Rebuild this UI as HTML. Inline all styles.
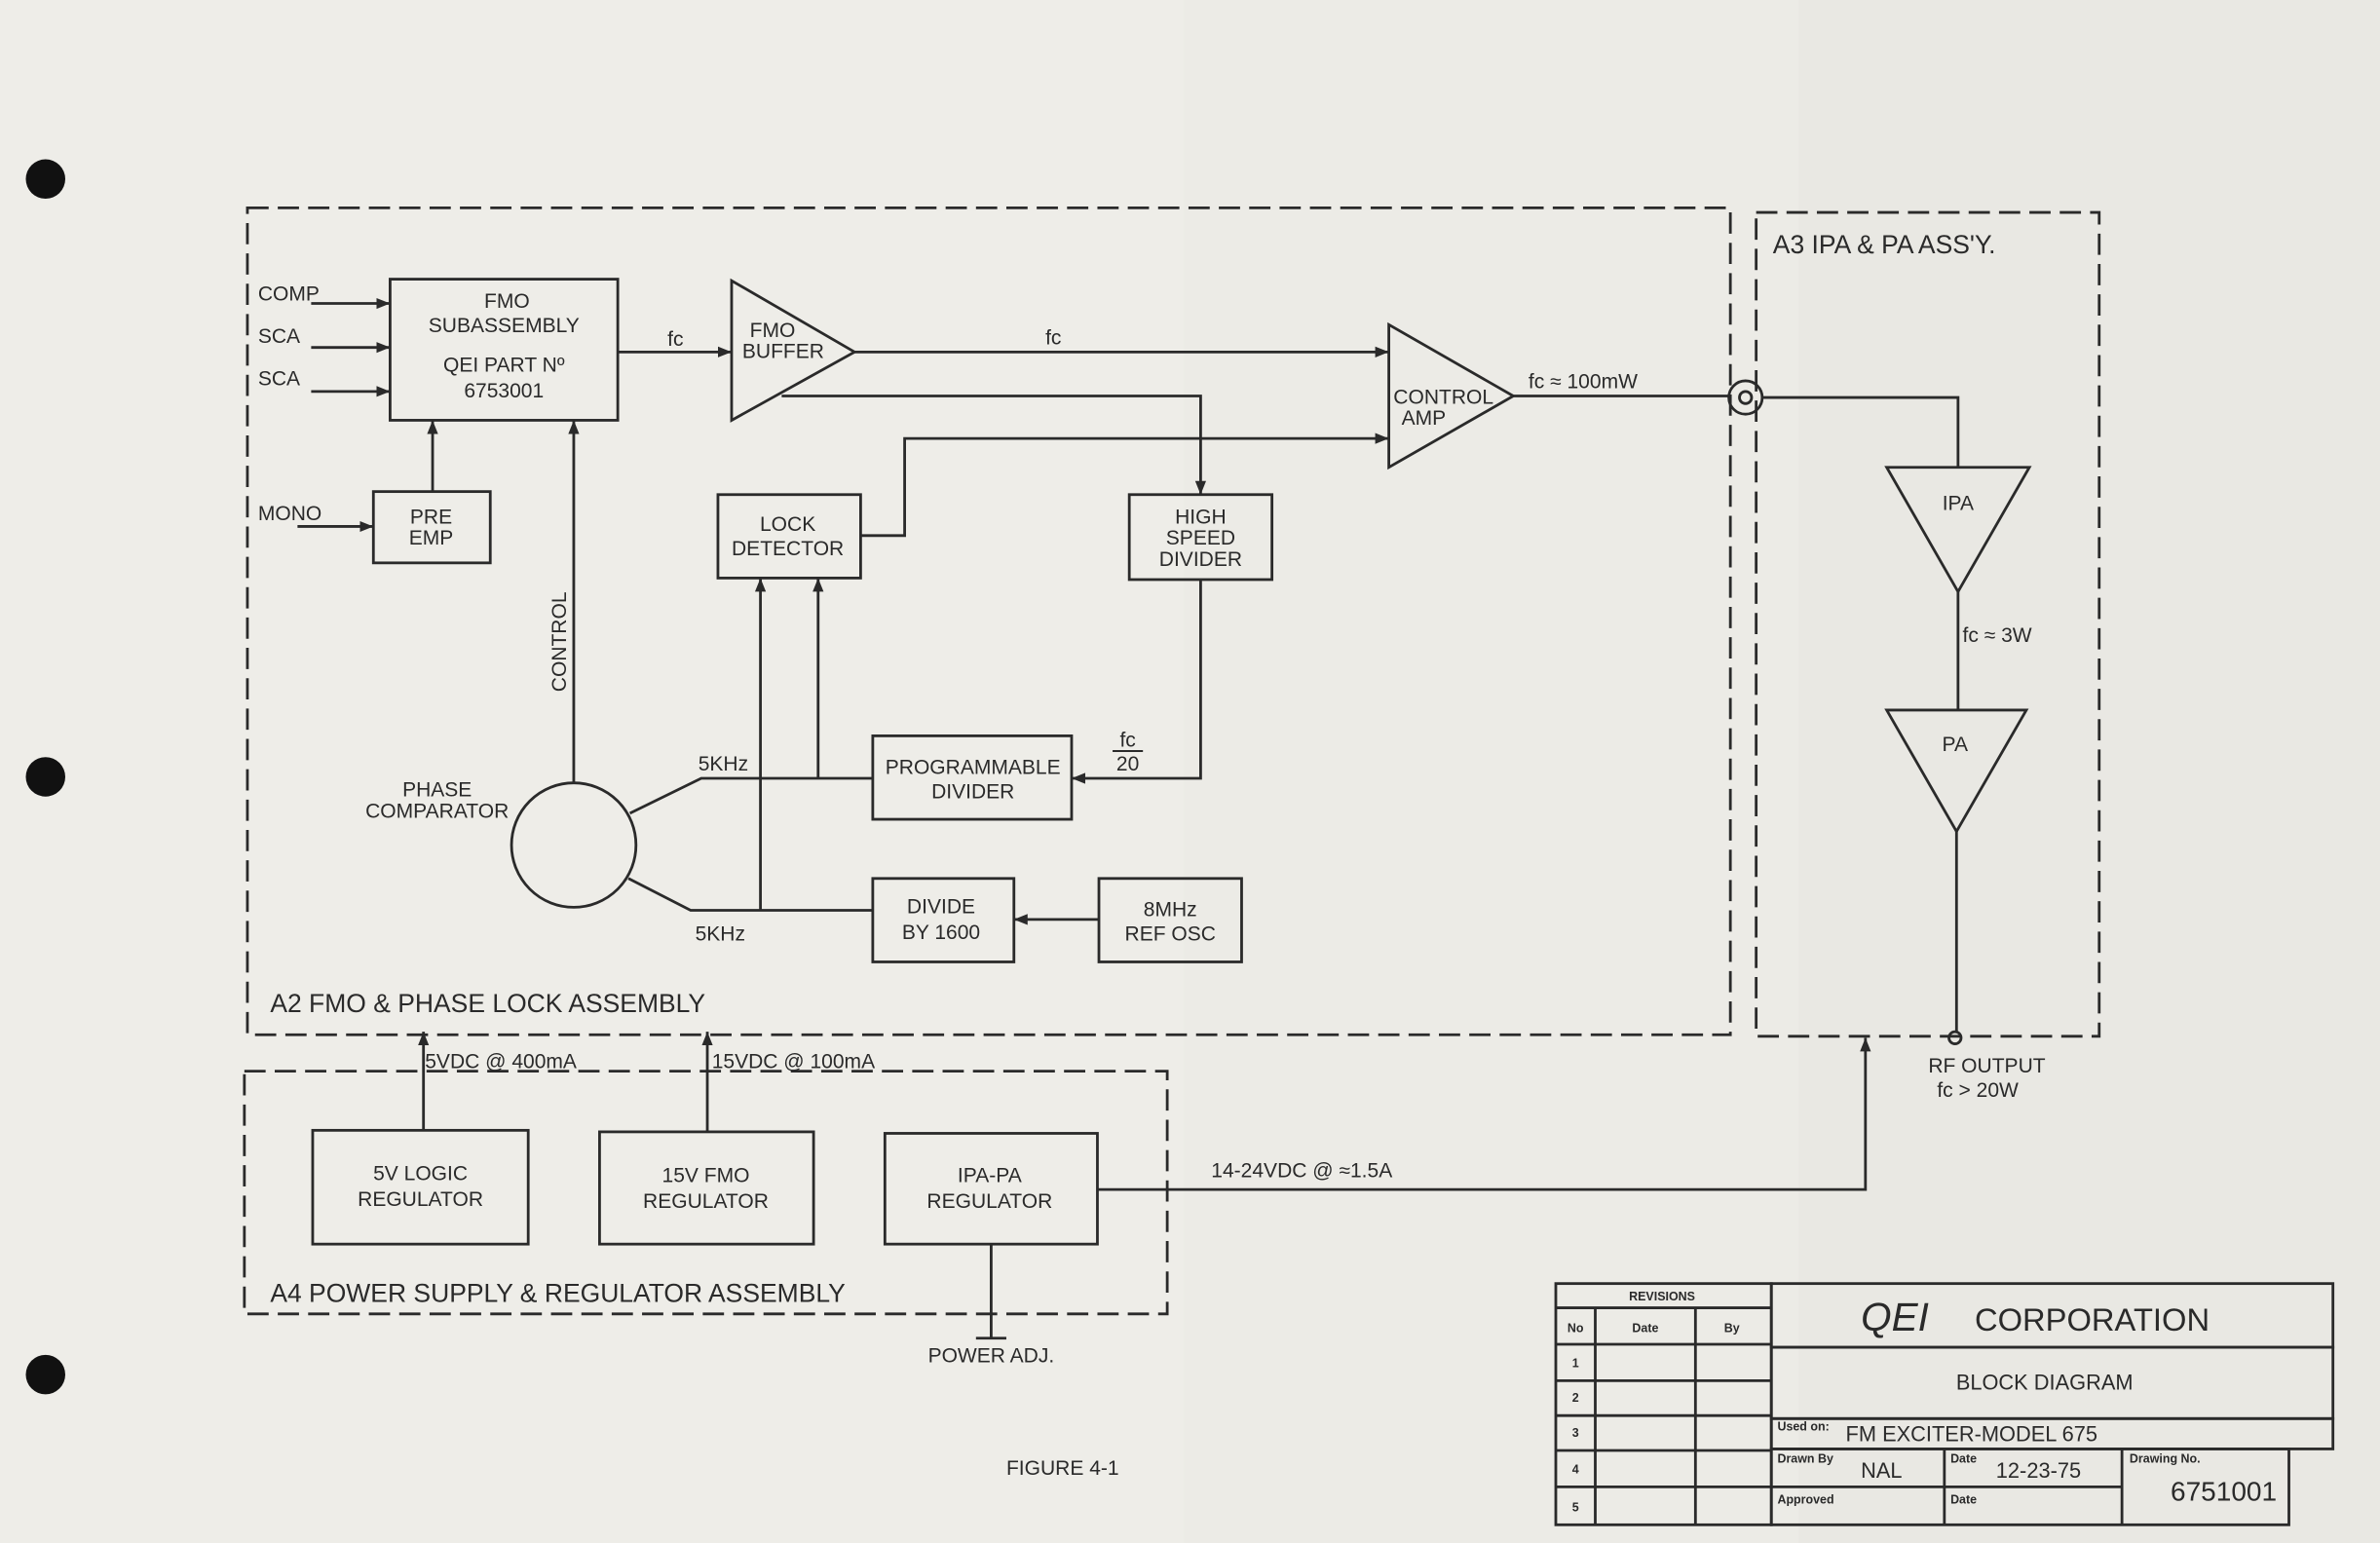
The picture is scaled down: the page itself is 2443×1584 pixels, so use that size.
<!DOCTYPE html>
<html><head><meta charset="utf-8"><style>
html,body{margin:0;padding:0;background:#ecebe6;}
svg{display:block;}
text{font-family:"Liberation Sans",sans-serif;fill:#2a2a2a;}
</style></head><body>
<svg width="2443" height="1584" viewBox="0 0 1568 1017" preserveAspectRatio="none" xmlns="http://www.w3.org/2000/svg">
<defs>
<marker id="ar" viewBox="0 0 10 10" refX="10" refY="5" markerWidth="9" markerHeight="9" markerUnits="userSpaceOnUse" orient="auto"><path d="M0,1 L10,5 L0,9 z" fill="#2a2a2a"/></marker>
</defs>
<rect width="1568" height="1017" fill="#ecebe6"/>
<rect x="0" y="0" width="780" height="1017" fill="#eeede8"/>
<rect x="1185" y="0" width="383" height="1017" fill="#e9e8e3"/>
<circle cx="30" cy="118" r="13" fill="#111"/>
<circle cx="30" cy="512" r="13" fill="#111"/>
<circle cx="30" cy="906" r="13" fill="#111"/>
<g fill="none" stroke="#2a2a2a" stroke-width="1.8">
<g stroke-dasharray="14,6">
<rect x="163" y="137" width="977" height="545"/>
<rect x="1157" y="140" width="226" height="543"/>
<rect x="161" y="706" width="608" height="160"/>
</g>
<rect x="257" y="184" width="150" height="93"/>
<rect x="246" y="324" width="77" height="47"/>
<rect x="473" y="326" width="94" height="55"/>
<rect x="744" y="326" width="94" height="56"/>
<rect x="575" y="485" width="131" height="55"/>
<rect x="575" y="579" width="93" height="55"/>
<rect x="724" y="579" width="94" height="55"/>
<rect x="206" y="745" width="142" height="75"/>
<rect x="395" y="746" width="141" height="74"/>
<rect x="583" y="747" width="140" height="73"/>
<polygon points="482,185 482,277 563,232"/>
<polygon points="915,214 915,308 997,261"/>
<polygon points="1243,308 1337,308 1290,390"/>
<polygon points="1243,468 1335,468 1289,548"/>
<circle cx="378" cy="557" r="41"/>
<circle cx="1150" cy="262" r="11"/>
<circle cx="1150" cy="262" r="4"/>
<circle cx="1288" cy="684" r="4"/>
<line x1="205" y1="200" x2="257" y2="200" marker-end="url(#ar)"/>
<line x1="205" y1="229" x2="257" y2="229" marker-end="url(#ar)"/>
<line x1="205" y1="258" x2="257" y2="258" marker-end="url(#ar)"/>
<line x1="196" y1="347" x2="246" y2="347" marker-end="url(#ar)"/>
<line x1="285" y1="324" x2="285" y2="277" marker-end="url(#ar)"/>
<line x1="378" y1="516" x2="378" y2="277" marker-end="url(#ar)"/>
<line x1="407" y1="232" x2="482" y2="232" marker-end="url(#ar)"/>
<line x1="563" y1="232" x2="915" y2="232" marker-end="url(#ar)"/>
<polyline points="515,261 791,261 791,326" marker-end="url(#ar)"/>
<polyline points="567,353 596,353 596,289 915,289" marker-end="url(#ar)"/>
<line x1="997" y1="261" x2="1139" y2="261"/>
<polyline points="1161,262 1290,262 1290,308"/>
<line x1="1290" y1="390" x2="1290" y2="468"/>
<line x1="1289" y1="548" x2="1289" y2="680"/>
<polyline points="791,382 791,513 706,513" marker-end="url(#ar)"/>
<polyline points="575,513 462,513 415,536"/>
<line x1="539" y1="513" x2="539" y2="381" marker-end="url(#ar)"/>
<line x1="501" y1="600" x2="501" y2="381" marker-end="url(#ar)"/>
<polyline points="575,600 455,600 414,579"/>
<line x1="724" y1="606" x2="668" y2="606" marker-end="url(#ar)"/>
<line x1="279" y1="745" x2="279" y2="680" marker-end="url(#ar)"/>
<line x1="466" y1="746" x2="466" y2="680" marker-end="url(#ar)"/>
<polyline points="723,784 1229,784 1229,684" marker-end="url(#ar)"/>
<line x1="653" y1="820" x2="653" y2="882"/>
<line x1="643" y1="882" x2="663" y2="882"/>
<!-- title block -->
<rect x="1025" y="846" width="142" height="159"/>
<rect x="1167" y="846" width="370" height="42"/>
<rect x="1167" y="888" width="370" height="47"/>
<rect x="1167" y="935" width="370" height="20"/>
<rect x="1167" y="955" width="341" height="50"/>
<line x1="1167" y1="980" x2="1398" y2="980"/>
<line x1="1281" y1="955" x2="1281" y2="1005"/>
<line x1="1398" y1="955" x2="1398" y2="1005"/>
<line x1="1025" y1="862" x2="1167" y2="862"/>
<line x1="1051" y1="862" x2="1051" y2="1005"/>
<line x1="1117" y1="862" x2="1117" y2="1005"/>
<line x1="1025" y1="886" x2="1167" y2="886"/>
<line x1="1025" y1="910" x2="1167" y2="910"/>
<line x1="1025" y1="933" x2="1167" y2="933"/>
<line x1="1025" y1="956" x2="1167" y2="956"/>
<line x1="1025" y1="980" x2="1167" y2="980"/>
</g>
<g font-size="13.5" text-anchor="middle">
<text x="334" y="203">FMO</text>
<text x="332" y="219">SUBASSEMBLY</text>
<text x="332" y="245">QEI PART Nº</text>
<text x="332" y="262">6753001</text>
<text x="284" y="345">PRE</text>
<text x="284" y="359">EMP</text>
<text x="519" y="350">LOCK</text>
<text x="519" y="366">DETECTOR</text>
<text x="791" y="345">HIGH</text>
<text x="791" y="359">SPEED</text>
<text x="791" y="373">DIVIDER</text>
<text x="641" y="510">PROGRAMMABLE</text>
<text x="641" y="526">DIVIDER</text>
<text x="620" y="602">DIVIDE</text>
<text x="620" y="619">BY 1600</text>
<text x="771" y="604">8MHz</text>
<text x="771" y="620">REF OSC</text>
<text x="277" y="778">5V LOGIC</text>
<text x="277" y="795">REGULATOR</text>
<text x="465" y="779">15V FMO</text>
<text x="465" y="796">REGULATOR</text>
<text x="652" y="779">IPA-PA</text>
<text x="652" y="796">REGULATOR</text>
<text x="509" y="222">FMO</text>
<text x="516" y="236">BUFFER</text>
<text x="951" y="266">CONTROL</text>
<text x="938" y="280">AMP</text>
<text x="1290" y="336">IPA</text>
<text x="1288" y="495">PA</text>
<text x="288" y="525">PHASE</text>
<text x="288" y="539">COMPARATOR</text>
<text x="445" y="228">fc</text>
<text x="694" y="227">fc</text>
<text x="743" y="492">fc</text>
<text x="743" y="508">20</text>
<text x="653" y="898">POWER ADJ.</text>
<text x="1309" y="707">RF OUTPUT</text>
<text x="1303" y="723">fc &gt; 20W</text>
</g>
<line x1="733" y1="495" x2="753" y2="495" stroke="#2a2a2a" stroke-width="1.3"/>
<g font-size="13.5">
<text x="170" y="198">COMP</text>
<text x="170" y="226">SCA</text>
<text x="170" y="254">SCA</text>
<text x="170" y="343">MONO</text>
<text x="460" y="508">5KHz</text>
<text x="458" y="620">5KHz</text>
<text x="1007" y="256">fc ≈ 100mW</text>
<text x="1293" y="423">fc ≈ 3W</text>
<text x="280" y="704">5VDC @ 400mA</text>
<text x="469" y="704">15VDC @ 100mA</text>
<text x="798" y="776">14-24VDC @ ≈1.5A</text>
<text x="663" y="972">FIGURE 4-1</text>
<text transform="translate(373,456) rotate(-90)">CONTROL</text>
</g>
<g font-size="17">
<text x="178" y="667">A2  FMO &amp; PHASE LOCK ASSEMBLY</text>
<text x="178" y="858">A4 POWER SUPPLY &amp; REGULATOR ASSEMBLY</text>
<text x="1168" y="167">A3  IPA &amp; PA ASS'Y.</text>
</g>
<g font-size="8" font-weight="bold" text-anchor="middle">
<text x="1095" y="857">REVISIONS</text>
<text x="1038" y="878">No</text>
<text x="1084" y="878">Date</text>
<text x="1141" y="878">By</text>
<text x="1038" y="901">1</text><text x="1038" y="924">2</text><text x="1038" y="947">3</text><text x="1038" y="971">4</text><text x="1038" y="996">5</text>
</g>
<g font-size="8" font-weight="bold">
<text x="1171" y="943">Used on:</text>
<text x="1171" y="964">Drawn By</text>
<text x="1285" y="964">Date</text>
<text x="1403" y="964">Drawing No.</text>
<text x="1171" y="991">Approved</text>
<text x="1285" y="991">Date</text>
</g>
<text x="1226" y="877" font-size="26" font-style="italic">QEI</text>
<text x="1301" y="877" font-size="21">CORPORATION</text>
<text x="1347" y="916" font-size="14" text-anchor="middle">BLOCK DIAGRAM</text>
<text x="1216" y="950" font-size="14">FM EXCITER-MODEL 675</text>
<text x="1226" y="974" font-size="14">NAL</text>
<text x="1315" y="974" font-size="14">12-23-75</text>
<text x="1430" y="989" font-size="18">6751001</text>
</svg>
</body></html>
